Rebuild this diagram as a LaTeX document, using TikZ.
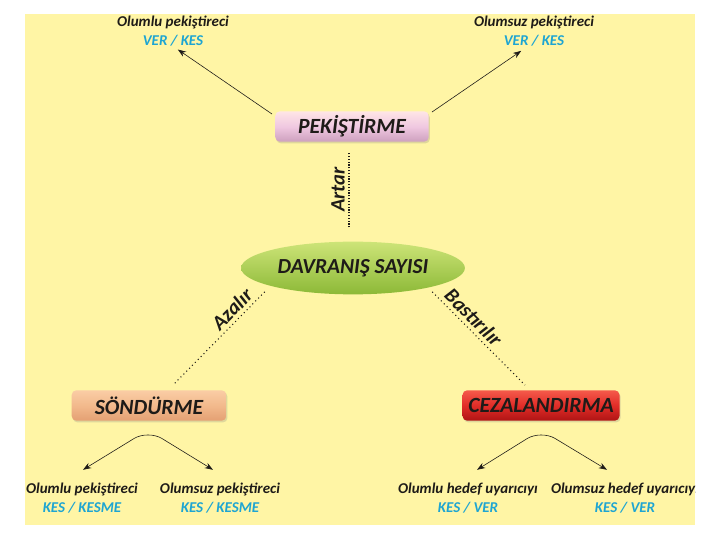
\documentclass[tikz,border=0pt]{standalone}
\usepackage{fontspec}
\setmainfont{Carlito}
\usetikzlibrary{shapes.geometric,arrows.meta,calc,shadows}
\definecolor{bgy}{HTML}{FFF5A5}
\definecolor{txt}{HTML}{1E1B18}
\definecolor{cy}{HTML}{1EA5D2}
\begin{document}
\begin{tikzpicture}[x=0.03cm,y=-0.03cm,
  lab/.style={font=\bfseries\itshape\fontsize{12.8}{16}\selectfont, text=txt, align=center, inner sep=0pt},
  boxbase/.style={rounded corners=4pt, minimum height=26pt, inner sep=0pt,
    font=\bfseries\itshape\fontsize{18.5}{21}\selectfont, text=txt,
    drop shadow={shadow xshift=1pt, shadow yshift=-1.5pt, opacity=0.25}},
  pinkbox/.style={boxbase, minimum width=131pt, top color=pink!40!white, bottom color={rgb,255:red,205;green,160;blue,190}, middle color={rgb,255:red,240;green,200;blue,225}},
  peachbox/.style={boxbase, minimum width=132pt, top color={rgb,255:red,250;green,205;blue,165}, bottom color={rgb,255:red,228;green,160;blue,115}, middle color={rgb,255:red,242;green,185;blue,140}},
  redbox/.style={boxbase, minimum width=134pt, top color={rgb,255:red,245;green,90;blue,75}, bottom color={rgb,255:red,175;green,20;blue,20}, middle color={rgb,255:red,225;green,45;blue,40}},
  oval/.style={ellipse, minimum width=191pt, minimum height=45pt, inner sep=0pt,
    top color={rgb,255:red,205;green,228;blue,120}, bottom color={rgb,255:red,140;green,185;blue,55},
    font=\bfseries\itshape\fontsize{18.3}{21}\selectfont, text=txt},
  arr/.style={-{Stealth[length=7pt,width=5pt]}, line width=0.5pt, draw=txt},
  arrb/.style={{Stealth[length=7pt,width=5pt]}-{Stealth[length=7pt,width=5pt]}, line width=0.5pt, draw=txt, rounded corners=14pt},
  dotv/.style={line width=1.3pt, dash pattern=on 1pt off 1.4pt, draw=txt},
  dotd/.style={line width=0.9pt, dash pattern=on 0.9pt off 2.6pt, draw=txt},
  edgelab/.style={font=\bfseries\itshape\fontsize{17.5}{19}\selectfont, text=txt, inner sep=3pt}
]
\useasboundingbox (0,0) rectangle (720,540);
\fill[white] (0,0) rectangle (720,540);
\fill[bgy] (25,14) rectangle (695,525);
\begin{scope}
\clip (25,14) rectangle (695,525);
% top texts
\node[lab] (tl) at (173,31) {Olumlu pekiştireci\\\textcolor{cy}{VER / KES}};
\node[lab] (tr) at (534,31) {Olumsuz pekiştireci\\\textcolor{cy}{VER / KES}};
% boxes
\node[pinkbox] (pek) at (352,126.5) {PEKİŞTİRME};
\node[oval] (dav) at (353,268) {DAVRANIŞ SAYISI};
\node[peachbox] (snd) at (149,405.5) {SÖNDÜRME};
\node[redbox] (cez) at (541,405.5) {CEZALANDIRMA};
% bottom texts
\node[lab] (bl) at (82,498) {Olumlu pekiştireci\\\textcolor{cy}{KES / KESME}};
\node[lab] (br) at (220,498) {Olumsuz pekiştireci\\\textcolor{cy}{KES / KESME}};
\node[lab] (cl) at (468,498) {Olumlu hedef uyarıcıyı\\\textcolor{cy}{KES / VER}};
\node[lab] (cr) at (625,498) {Olumsuz hedef uyarıcıyı\\\textcolor{cy}{KES / VER}};
% top arrows
\draw[arr, shorten >=5pt] ($(pek.north west)+(-3,3)$) -- (tl.south);
\draw[arr, shorten >=7pt] ($(pek.north east)+(3,1)$) -- ($(tr.south)+(-6,0)$);
% dotted connections
\draw[dotv] ($(dav.north)+(-4,-14)$) -- node[edgelab, midway, sloped, above] {Artar} ($(pek.south)+(-3,10)$);
\coordinate (az1) at ($(dav.south west)+(-9,5)$);
\coordinate (az2) at ($(snd.north)+(24,-5)$);
\draw[dotd] (az1) -- node[edgelab, pos=0.27, sloped, above] {Azalır} (az2);
\coordinate (ba1) at ($(dav.south east)+(0,5)$);
\coordinate (ba2) at ($(cez.north)+(-16,-5)$);
\draw[dotd] (ba1) -- node[edgelab, pos=0.36, sloped, above] {Bastırılır} (ba2);
% bottom forks
\coordinate (sapex) at ($(snd.south)+(-1,9)$);
\coordinate (sl) at ($(bl.north)+(1,-13)$);
\coordinate (sr) at ($(br.north)+(-7,-13)$);
\draw[arrb] (sl) -- (sapex) -- (sr);
\coordinate (capex) at ($(cez.south)+(0,9)$);
\coordinate (cl1) at ($(cl.north)+(9,-13)$);
\coordinate (cr1) at ($(cr.north)+(-18,-13)$);
\draw[arrb] (cl1) -- (capex) -- (cr1);
\end{scope}
\end{tikzpicture}
\end{document}
